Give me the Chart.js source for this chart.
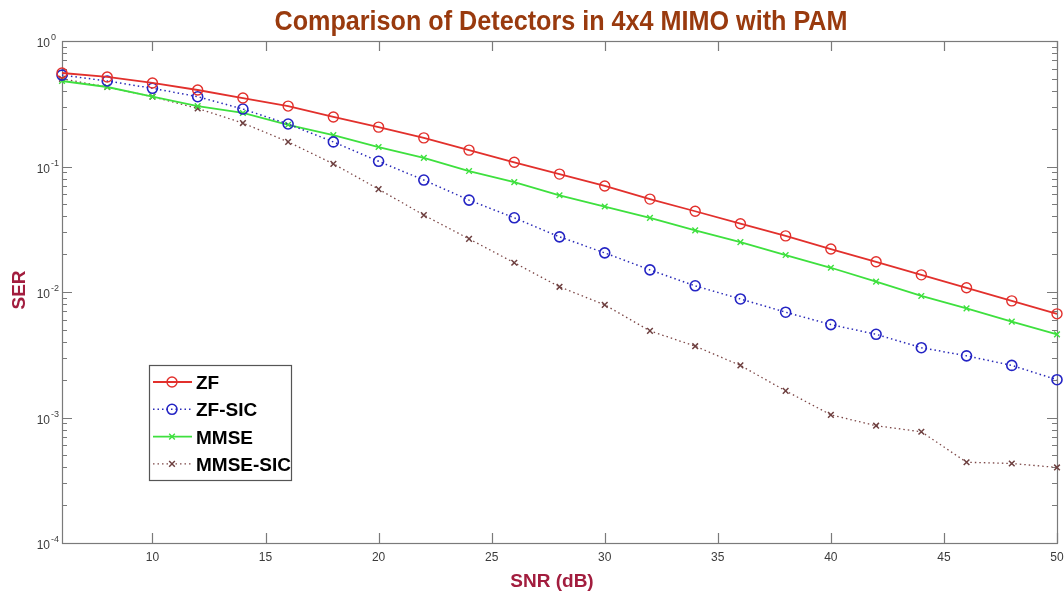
<!DOCTYPE html>
<html>
<head>
<meta charset="utf-8">
<script src="https://cdn.jsdelivr.net/npm/chart.js@4/dist/chart.umd.min.js"></script>
<style>
  html, body { margin: 0; padding: 0; background: #fff; }
  #wrap { width: 1064px; height: 596px; position: relative; }
</style>
</head>
<body>
<div id="wrap"><canvas id="chart"></canvas></div>
<script>
'use strict';

// ── Data ──────────────────────────────────────────────────────────────
const snrDb = [6, 8, 10, 12, 14, 16, 18, 20, 22, 24, 26, 28, 30, 32, 34, 36, 38, 40, 42, 44, 46, 48, 50];

const serZF = [0.556, 0.517, 0.463, 0.407, 0.351, 0.303, 0.248, 0.206, 0.169, 0.135, 0.108, 0.087,
  0.070, 0.055, 0.044, 0.035, 0.028, 0.022, 0.0174, 0.0137, 0.0108, 0.0085, 0.0067];

const serZFSIC = [0.535, 0.48, 0.42, 0.36, 0.287, 0.218, 0.157, 0.110, 0.078, 0.054, 0.039, 0.0275,
  0.0205, 0.0150, 0.0112, 0.0088, 0.0069, 0.0055, 0.0046, 0.0036, 0.0031, 0.0026, 0.0020];

const serMMSE = [0.48, 0.43, 0.36, 0.303, 0.267, 0.215, 0.178, 0.143, 0.117, 0.092, 0.075, 0.059,
  0.048, 0.039, 0.031, 0.025, 0.0197, 0.0156, 0.0121, 0.0093, 0.0074, 0.0058, 0.0046];

const serMMSESIC = [0.50, 0.43, 0.36, 0.29, 0.222, 0.157, 0.105, 0.066, 0.041, 0.0265, 0.0171, 0.0110,
  0.0079, 0.0049, 0.0037, 0.0026, 0.00163, 0.00105, 0.00086, 0.00077, 0.00044, 0.00043, 0.00040];

const xTicks = [10, 15, 20, 25, 30, 35, 40, 45, 50];
const yDecades = [1, 0.1, 0.01, 0.001, 0.0001];

const seriesNames = ['ZF', 'ZF-SIC', 'MMSE', 'MMSE-SIC'];

// ── Styles ────────────────────────────────────────────────────────────
const FONT = '"Liberation Sans", Arial, sans-serif';
const AXIS_COLOR = '#7a7a7a';
const TICK_TEXT = '#3c3c3c';
const LABEL_COLOR = '#a21d3e';

function toPoints(ys) {
  return snrDb.map((x, i) => ({ x, y: ys[i] }));
}

const datasets = [
  {
    label: seriesNames[0], data: toPoints(serZF),
    borderColor: '#e2302c', borderWidth: 1.8,
    pointStyle: 'circle', pointRadius: 5, pointBorderWidth: 1.4,
    pointBackgroundColor: 'rgba(0,0,0,0)', pointBorderColor: '#e2302c',
  },
  {
    label: seriesNames[1], data: toPoints(serZFSIC),
    borderColor: '#2a2ab8', borderWidth: 1.5, borderDash: [1.5, 3],
    pointStyle: 'circle', pointRadius: 5, pointBorderWidth: 1.6,
    pointBackgroundColor: 'rgba(0,0,0,0)', pointBorderColor: '#2424c4',
  },
  {
    label: seriesNames[2], data: toPoints(serMMSE),
    borderColor: '#3ee03e', borderWidth: 1.8,
    pointStyle: 'crossRot', pointRadius: 4, pointBorderWidth: 1.4,
    pointBackgroundColor: '#3ee03e', pointBorderColor: '#3ee03e',
  },
  {
    label: seriesNames[3], data: toPoints(serMMSESIC),
    borderColor: '#7d4848', borderWidth: 1.3, borderDash: [1.5, 3],
    pointStyle: 'crossRot', pointRadius: 4, pointBorderWidth: 1.5,
    pointBackgroundColor: '#6e4040', pointBorderColor: '#6e4040',
  },
].map(d => Object.assign({ tension: 0, clip: false, fill: false }, d));

// ── MATLAB-ish frame: box, inward ticks, tick labels, titles, legend ──
const matlabFrame = {
  id: 'matlabFrame',
  beforeDatasetsDraw(chart) {
    const { ctx, chartArea: a, scales: { x, y } } = chart;
    ctx.save();
    ctx.strokeStyle = AXIS_COLOR;
    ctx.lineWidth = 1.2;
    ctx.strokeRect(a.left + 0.5, a.top + 0.5, a.right - a.left, a.bottom - a.top);

    ctx.beginPath();
    xTicks.forEach(v => {
      const px = Math.round(x.getPixelForValue(v)) + 0.5;
      ctx.moveTo(px, a.bottom); ctx.lineTo(px, a.bottom - 10);
      ctx.moveTo(px, a.top); ctx.lineTo(px, a.top + 10);
    });
    yDecades.forEach(v => {
      const py = Math.round(y.getPixelForValue(v)) + 0.5;
      ctx.moveTo(a.left, py); ctx.lineTo(a.left + 10, py);
      ctx.moveTo(a.right, py); ctx.lineTo(a.right - 10, py);
      if (v < 1) {
        for (let m = 2; m <= 9; m++) {
          const pm = Math.round(y.getPixelForValue(v * m)) + 0.5;
          ctx.moveTo(a.left, pm); ctx.lineTo(a.left + 5, pm);
          ctx.moveTo(a.right, pm); ctx.lineTo(a.right - 5, pm);
        }
      }
    });
    ctx.stroke();
    ctx.restore();
  },
  afterDraw(chart) {
    const { ctx, chartArea: a, scales: { x, y } } = chart;
    ctx.save();
    ctx.fillStyle = TICK_TEXT;
    ctx.textBaseline = 'alphabetic';

    // x tick labels
    ctx.font = `12px ${FONT}`;
    ctx.textAlign = 'center';
    xTicks.forEach(v => {
      ctx.fillText(String(v), x.getPixelForValue(v), a.bottom + 18);
    });

    // decade labels 10^n
    yDecades.forEach(v => {
      const py = y.getPixelForValue(v);
      const exp = Math.round(Math.log10(v));
      ctx.font = `12px ${FONT}`;
      ctx.textAlign = 'right';
      ctx.fillText('10', 50, py + 6);
      ctx.font = `9px ${FONT}`;
      ctx.textAlign = 'left';
      ctx.fillText(exp === 0 ? '0' : '-' + Math.abs(exp), 51, py - 1);
    });

    // title
    ctx.fillStyle = '#993a0e';
    ctx.font = `bold 27px ${FONT}`;
    ctx.textAlign = 'center';
    ctx.fillText('Comparison of Detectors in 4x4 MIMO with PAM', 561, 30, 573);

    // axis titles
    ctx.fillStyle = LABEL_COLOR;
    ctx.font = `bold 19px ${FONT}`;
    ctx.fillText('SNR (dB)', 552, 587, 104);
    ctx.save();
    ctx.translate(25, 290);
    ctx.rotate(-Math.PI / 2);
    ctx.fillText('SER', 0, 0, 44);
    ctx.restore();

    // legend box
    const lx = 149, ly = 365, lw = 142, lh = 115;
    ctx.fillStyle = '#fff';
    ctx.fillRect(lx, ly, lw, lh);
    ctx.strokeStyle = '#555';
    ctx.lineWidth = 1.2;
    ctx.strokeRect(lx + 0.5, ly + 0.5, lw, lh);

    chart.data.datasets.forEach((ds, i) => {
      const ry = 382 + i * 27.3;
      ctx.save();
      ctx.strokeStyle = ds.borderColor;
      ctx.lineWidth = ds.borderWidth;
      ctx.setLineDash(ds.borderDash || []);
      ctx.beginPath();
      ctx.moveTo(153, ry); ctx.lineTo(192, ry);
      ctx.stroke();
      ctx.setLineDash([]);
      ctx.lineWidth = ds.pointBorderWidth;
      ctx.strokeStyle = ds.pointBorderColor;
      ctx.fillStyle = ds.pointBackgroundColor;
      Chart.helpers.drawPoint(ctx, {
        pointStyle: ds.pointStyle, radius: ds.pointRadius, borderWidth: ds.pointBorderWidth, rotation: 0,
      }, 172, ry);
      ctx.restore();
      ctx.fillStyle = '#000';
      ctx.font = `bold 19px ${FONT}`;
      ctx.textAlign = 'left';
      ctx.fillText(ds.label, 196, ry + 7);
    });

    ctx.restore();
  },
};

new Chart(document.getElementById('chart'), {
  type: 'line',
  data: { datasets },
  options: {
    responsive: true,
    maintainAspectRatio: false,
    animation: false,
    layout: { padding: { top: 41, right: 7, left: 0, bottom: 0 } },
    plugins: { legend: { display: false }, tooltip: { enabled: false }, title: { display: false } },
    scales: {
      x: {
        type: 'linear', min: 6, max: 50,
        grid: { display: false },
        border: { display: false },
        ticks: { display: false },
        afterFit: s => { s.height = 53; },
      },
      y: {
        type: 'logarithmic', min: 0.0001, max: 1,
        grid: { display: false },
        border: { display: false },
        ticks: { display: false },
        afterFit: s => { s.width = 62; },
      },
    },
  },
  plugins: [matlabFrame],
});
</script>
</body>
</html>
